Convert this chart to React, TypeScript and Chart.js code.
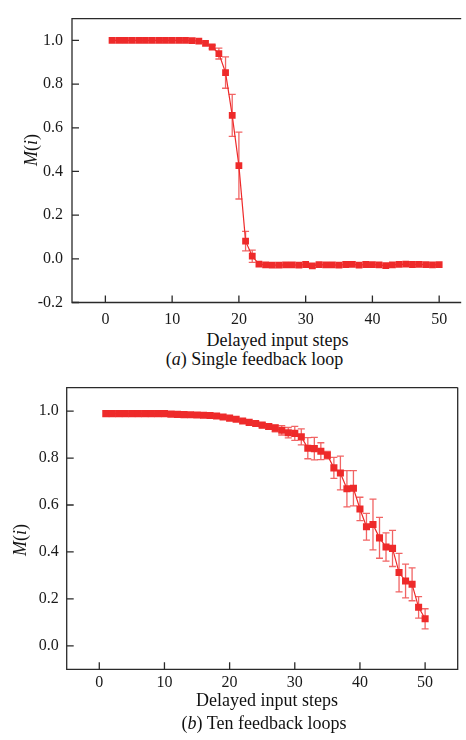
import React, { useEffect, useRef } from "react";
import { Chart, registerables } from "chart.js";

Chart.register(...registerables);

// ---------- data ----------
const steps = [
  1, 2, 3, 4, 5, 6, 7, 8, 9, 10, 11, 12, 13, 14, 15, 16, 17, 18, 19, 20, 21, 22, 23, 24, 25,
  26, 27, 28, 29, 30, 31, 32, 33, 34, 35, 36, 37, 38, 39, 40, 41, 42, 43, 44, 45, 46, 47, 48, 49, 50,
];

const singleLoopM = [
  1.0, 1.0, 1.0, 1.0, 1.0, 1.0, 1.0, 1.0, 1.0, 1.0, 1.0, 1.0, 0.999, 0.997, 0.987, 0.97, 0.94, 0.853,
  0.657, 0.427, 0.081, 0.012, -0.024, -0.028, -0.029, -0.029, -0.028, -0.028, -0.029, -0.026, -0.032,
  -0.027, -0.028, -0.028, -0.029, -0.026, -0.025, -0.029, -0.026, -0.027, -0.028, -0.031, -0.028,
  -0.025, -0.024, -0.026, -0.025, -0.027, -0.028, -0.027,
];

const singleLoopErr = [
  0.002, 0.002, 0.002, 0.002, 0.002, 0.002, 0.002, 0.002, 0.002, 0.002, 0.002, 0.002, 0.002, 0.003,
  0.004, 0.008, 0.025, 0.072, 0.096, 0.153, 0.045, 0.028, 0.005, 0.003, 0.003, 0.003, 0.003, 0.003,
  0.003, 0.003, 0.008, 0.003, 0.003, 0.003, 0.003, 0.003, 0.003, 0.003, 0.003, 0.003, 0.003, 0.004,
  0.003, 0.003, 0.003, 0.003, 0.003, 0.003, 0.003, 0.003,
];

const tenLoopsM = [
  0.989, 0.989, 0.989, 0.989, 0.989, 0.989, 0.989, 0.989, 0.989, 0.989, 0.987, 0.986, 0.985, 0.984,
  0.983, 0.982, 0.981, 0.979, 0.975, 0.97, 0.965, 0.958, 0.952, 0.947, 0.94, 0.934, 0.927, 0.918,
  0.908, 0.905, 0.89, 0.842, 0.84, 0.829, 0.812, 0.758, 0.736, 0.669, 0.671, 0.583, 0.507, 0.517,
  0.46, 0.421, 0.415, 0.312, 0.276, 0.262, 0.164, 0.115,
];

const tenLoopsErr = [
  0.002, 0.002, 0.002, 0.002, 0.002, 0.002, 0.002, 0.002, 0.002, 0.002, 0.002, 0.002, 0.002, 0.002,
  0.002, 0.002, 0.002, 0.002, 0.003, 0.003, 0.004, 0.005, 0.006, 0.008, 0.01, 0.012, 0.015, 0.02,
  0.022, 0.03, 0.034, 0.045, 0.048, 0.036, 0.016, 0.045, 0.072, 0.077, 0.075, 0.05, 0.057, 0.108,
  0.087, 0.06, 0.077, 0.082, 0.072, 0.07, 0.046, 0.043,
];

const xTickValues = [0, 10, 20, 30, 40, 50];
const yTicksSingle = [-0.2, 0.0, 0.2, 0.4, 0.6, 0.8, 1.0];
const yTicksTen = [0.0, 0.2, 0.4, 0.6, 0.8, 1.0];

const xAxisTitle = "Delayed input steps";

// ---------- styles ----------
const RED = "#ee2a2a";
const ERR = "rgba(236,40,40,0.72)";
const AXIS = "#2a2a2a";
const SERIF = "'Liberation Serif', Tinos, 'Times New Roman', Times, 'DejaVu Serif', 'Noto Serif', serif";

const errorBarPlugin = {
  id: "errorBars",
  beforeDatasetsDraw(chart: any, _args: any, opts: any) {
    const errs: number[] = opts.errors || [];
    const xs = chart.scales.x;
    const ys = chart.scales.y;
    const ctx = chart.ctx;
    ctx.save();
    ctx.strokeStyle = ERR;
    ctx.lineWidth = 1.3;
    chart.data.datasets[0].data.forEach((p: any, i: number) => {
      const e = errs[i];
      if (!e) return;
      const px = xs.getPixelForValue(p.x);
      const t = ys.getPixelForValue(p.y + e);
      const b = ys.getPixelForValue(p.y - e);
      if (Math.abs(b - t) < 3) return;
      ctx.beginPath();
      ctx.moveTo(px, t);
      ctx.lineTo(px, b);
      ctx.moveTo(px - 3.5, t);
      ctx.lineTo(px + 3.5, t);
      ctx.moveTo(px - 3.5, b);
      ctx.lineTo(px + 3.5, b);
      ctx.stroke();
    });
    ctx.restore();
  },
};

const framePlugin = {
  id: "frame",
  afterDraw(chart: any, _args: any, opts: any) {
    const { left, right, top, bottom } = chart.chartArea;
    const ctx = chart.ctx;
    const xs = chart.scales.x;
    const ys = chart.scales.y;
    ctx.save();
    ctx.strokeStyle = AXIS;
    ctx.lineWidth = 1.3;
    ctx.beginPath();
    ctx.moveTo(right, top);
    ctx.lineTo(left, top);
    ctx.lineTo(left, bottom);
    ctx.lineTo(right, bottom);
    if (opts.right) ctx.lineTo(right, top);
    ctx.stroke();
    ctx.beginPath();
    ys.ticks.forEach((t: any) => {
      const py = ys.getPixelForValue(t.value);
      ctx.moveTo(left, py);
      ctx.lineTo(left + 7, py);
    });
    xs.ticks.forEach((t: any) => {
      const px = xs.getPixelForValue(t.value);
      ctx.moveTo(px, bottom);
      ctx.lineTo(px, bottom - 7);
    });
    ctx.stroke();
    ctx.restore();
  },
};

type PanelProps = {
  values: number[];
  errors: number[];
  yMin: number;
  yMax: number;
  yTicks: number[];
  xMin: number;
  xMax: number;
  width: number;
  height: number;
  padTop: number;
  padRight: number;
  yWidth: number;
  xHeight: number;
  yLabelPad: number;
  xLabelPad: number;
  drawRight: boolean;
  top: number;
  pointRadius: number;
};

function Panel(p: PanelProps) {
  const ref = useRef<HTMLCanvasElement | null>(null);
  useEffect(() => {
    if (!ref.current) return;
    const chart = new Chart(ref.current, {
      type: "line",
      data: {
        datasets: [
          {
            data: steps.map((s, i) => ({ x: s, y: p.values[i] })),
            borderColor: RED,
            backgroundColor: RED,
            borderWidth: 1.2,
            pointStyle: "rect",
            pointRadius: p.pointRadius,
            pointBorderWidth: 0,
            pointBackgroundColor: RED,
            tension: 0,
          },
        ],
      },
      options: {
        responsive: false,
        animation: false,
        events: [],
        layout: { padding: { top: p.padTop, right: p.padRight, left: 0, bottom: 0 } },
        plugins: {
          legend: { display: false },
          tooltip: { enabled: false },
          errorBars: { errors: p.errors },
          frame: { right: p.drawRight },
        } as any,
        scales: {
          x: {
            type: "linear",
            min: p.xMin,
            max: p.xMax,
            grid: { display: false, drawTicks: false },
            border: { display: false },
            afterBuildTicks: (s: any) => {
              s.ticks = xTickValues.map((v) => ({ value: v }));
            },
            afterFit: (s: any) => {
              s.height = p.xHeight;
            },
            ticks: {
              padding: p.xLabelPad,
              color: "#1a1a1a",
              font: { family: SERIF, size: 16 },
              maxRotation: 0,
              callback: (v: any) => String(v),
            },
          },
          y: {
            type: "linear",
            min: p.yMin,
            max: p.yMax,
            grid: { display: false, drawTicks: false },
            border: { display: false },
            afterBuildTicks: (s: any) => {
              s.ticks = p.yTicks.map((v) => ({ value: v }));
            },
            afterFit: (s: any) => {
              s.width = p.yWidth;
            },
            ticks: {
              padding: p.yLabelPad,
              color: "#1a1a1a",
              font: { family: SERIF, size: 16 },
              callback: (v: any) => Number(v).toFixed(1),
            },
          },
        },
      },
      plugins: [errorBarPlugin, framePlugin],
    });
    return () => chart.destroy();
  }, []);
  return (
    <canvas
      ref={ref}
      width={p.width}
      height={p.height}
      style={{ position: "absolute", left: 0, top: p.top, width: p.width, height: p.height }}
    />
  );
}

const textBase: React.CSSProperties = {
  position: "absolute",
  fontFamily: SERIF,
  fontSize: 18,
  lineHeight: "18px",
  color: "#111",
  whiteSpace: "nowrap",
};

function YTitle({ cx, cy }: { cx: number; cy: number }) {
  return (
    <div
      style={{
        ...textBase,
        left: cx,
        top: cy,
        transform: "translate(-50%, -50%) rotate(-90deg)",
      }}
    >
      <i>M</i>(<i>i</i>)
    </div>
  );
}

function Centered({ cx, top, children }: { cx: number; top: number; children: React.ReactNode }) {
  return <div style={{ ...textBase, left: cx, top, transform: "translateX(-50%)" }}>{children}</div>;
}

export default function App() {
  return (
    <div style={{ position: "absolute", left: 0, top: 0, width: 466, height: 740, background: "#fff", overflow: "hidden" }}>
      <Panel
        values={singleLoopM}
        errors={singleLoopErr}
        yMin={-0.2}
        yMax={1.1}
        yTicks={yTicksSingle}
        xMin={-5}
        xMax={53.3}
        width={466}
        height={330}
        padTop={2}
        padRight={0}
        yWidth={72}
        xHeight={27.5}
        yLabelPad={9}
        xLabelPad={7.5}
        drawRight={false}
        top={0}
        pointRadius={4.8}
      />
      <YTitle cx={31} cy={150} />
      <Centered cx={277.5} top={330.6}>
        {xAxisTitle}
      </Centered>
      <Centered cx={254.5} top={350}>
        (<i>a</i>) Single feedback loop
      </Centered>

      <Panel
        values={tenLoopsM}
        errors={tenLoopsErr}
        yMin={-0.1}
        yMax={1.1}
        yTicks={yTicksTen}
        xMin={-5}
        xMax={55}
        width={466}
        height={330}
        padTop={8}
        padRight={8.3}
        yWidth={66.7}
        xHeight={30.7}
        yLabelPad={8}
        xLabelPad={4}
        drawRight={true}
        top={370}
        pointRadius={5}
      />
      <YTitle cx={20} cy={540} />
      <Centered cx={267} top={691}>
        {xAxisTitle}
      </Centered>
      <Centered cx={264} top={714}>
        (<i>b</i>) Ten feedback loops
      </Centered>
    </div>
  );
}
